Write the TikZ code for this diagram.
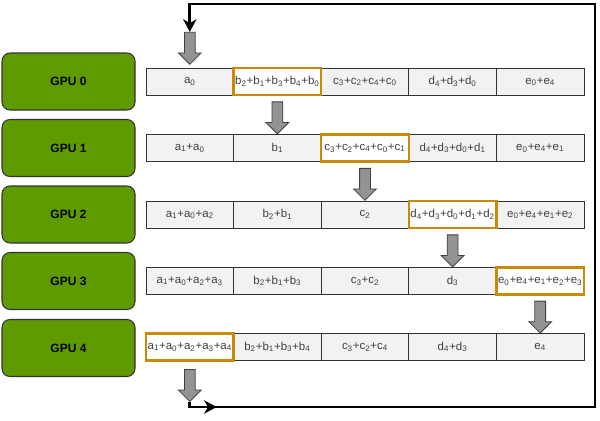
\documentclass[tikz,border=0pt]{standalone}
\usepackage{fontspec}
\setmainfont{Liberation Sans}
\usetikzlibrary{shapes.arrows,arrows.meta,decorations.markings,calc}
\definecolor{gpugreen}{HTML}{5F9B00}
\definecolor{cellfill}{HTML}{F2F2F4}
\definecolor{hl}{HTML}{C98A0A}
\definecolor{arrgray}{HTML}{939393}
\newcommand\ix[1]{\textsubscript{#1}}
\begin{document}
\begin{tikzpicture}[x=0.75pt,y=-0.75pt,
 gpu/.style={draw=black!80, fill=gpugreen, rounded corners=6pt, minimum width=133*0.75pt, minimum height=57*0.75pt, font=\bfseries\fontsize{9}{10}\selectfont, line width=0.8pt},
 cell/.style={draw=black!80, fill=cellfill, minimum width=87.6*0.75pt, minimum height=27*0.75pt, inner sep=0pt, font=\fontsize{8.6}{10}\selectfont, text=black!75, line width=0.6pt},
 hlcell/.style={cell, draw=hl, fill=white, line width=1.8pt},
 blockarrow/.style={single arrow, draw=black!75, fill=arrgray, rotate=-90, minimum height=32*0.75pt, inner sep=3.75pt, single arrow head extend=4.5pt, single arrow head indent=0pt, line width=0.6pt},
 loopline/.style={line width=2.2pt, black}
]
\useasboundingbox (0,0) rectangle (600,421);
% GPU boxes
\node[gpu] (g0) at (68.5,81.5) {GPU 0};
\node[gpu] (g1) at (68.5,148) {GPU 1};
\node[gpu] (g2) at (68.5,214.5) {GPU 2};
\node[gpu] (g3) at (68.5,281) {GPU 3};
\node[gpu] (g4) at (68.5,348) {GPU 4};
% row 0
\node[cell] (c00) at (189.8,81.5) {a\ix0};
\node[cell] (c02) at (365,81.5) {c\ix3+c\ix2+c\ix4+c\ix0};
\node[cell] (c03) at (452.6,81.5) {d\ix4+d\ix3+d\ix0};
\node[cell] (c04) at (540.2,81.5) {e\ix0+e\ix4};
\node[hlcell] (c01) at (277.4,81.5) {b\ix2+b\ix1+b\ix3+b\ix4+b\ix0};
% row 1
\node[cell] (c10) at (189.8,148) {a\ix1+a\ix0};
\node[cell] (c11) at (277.4,148) {b\ix1};
\node[cell] (c13) at (452.6,148) {d\ix4+d\ix3+d\ix0+d\ix1};
\node[cell] (c14) at (540.2,148) {e\ix0+e\ix4+e\ix1};
\node[hlcell] (c12) at (365,148) {c\ix3+c\ix2+c\ix4+c\ix0+c\ix1};
% row 2
\node[cell] (c20) at (189.8,214.5) {a\ix1+a\ix0+a\ix2};
\node[cell] (c21) at (277.4,214.5) {b\ix2+b\ix1};
\node[cell] (c22) at (365,214.5) {c\ix2};
\node[cell] (c24) at (540.2,214.5) {e\ix0+e\ix4+e\ix1+e\ix2};
\node[hlcell] (c23) at (452.6,214.5) {d\ix4+d\ix3+d\ix0+d\ix1+d\ix2};
% row 3
\node[cell] (c30) at (189.8,281) {a\ix1+a\ix0+a\ix2+a\ix3};
\node[cell] (c31) at (277.4,281) {b\ix2+b\ix1+b\ix3};
\node[cell] (c32) at (365,281) {c\ix3+c\ix2};
\node[cell] (c33) at (452.6,281) {d\ix3};
\node[hlcell] (c34) at (540.2,281) {e\ix0+e\ix4+e\ix1+e\ix2+e\ix3};
% row 4
\node[cell] (c41) at (277.4,347) {b\ix2+b\ix1+b\ix3+b\ix4};
\node[cell] (c42) at (365,347) {c\ix3+c\ix2+c\ix4};
\node[cell] (c43) at (452.6,347) {d\ix4+d\ix3};
\node[cell] (c44) at (540.2,347) {e\ix4};
\node[hlcell] (c40) at (189.8,347) {a\ix1+a\ix0+a\ix2+a\ix3+a\ix4};
% block arrows
\node[blockarrow] (a0) at ($(c00.north)+(0,-22)$) {};
\node[blockarrow] (a1) at ($(c01.south)!0.5!(c11.north)$) {};
\node[blockarrow] (a2) at ($(c12.south)!0.5!(c22.north)$) {};
\node[blockarrow] (a3) at ($(c23.south)!0.5!(c33.north)$) {};
\node[blockarrow] (a4) at ($(c34.south)!0.5!(c44.north)$) {};
\node[blockarrow] (a5) at ($(c40.south)+(0,21)$) {};
% loop line
\draw[loopline, -{Stealth[length=9.5pt,width=10pt,inset=3pt]},
  postaction={decorate, decoration={markings, mark=at position 24pt with {\arrow{Stealth[length=9.5pt,width=10pt,inset=3pt]}}}}]
  (a5.tip) |- (595,407) -- (595,4) -| (a0.tail);
\end{tikzpicture}
\end{document}
